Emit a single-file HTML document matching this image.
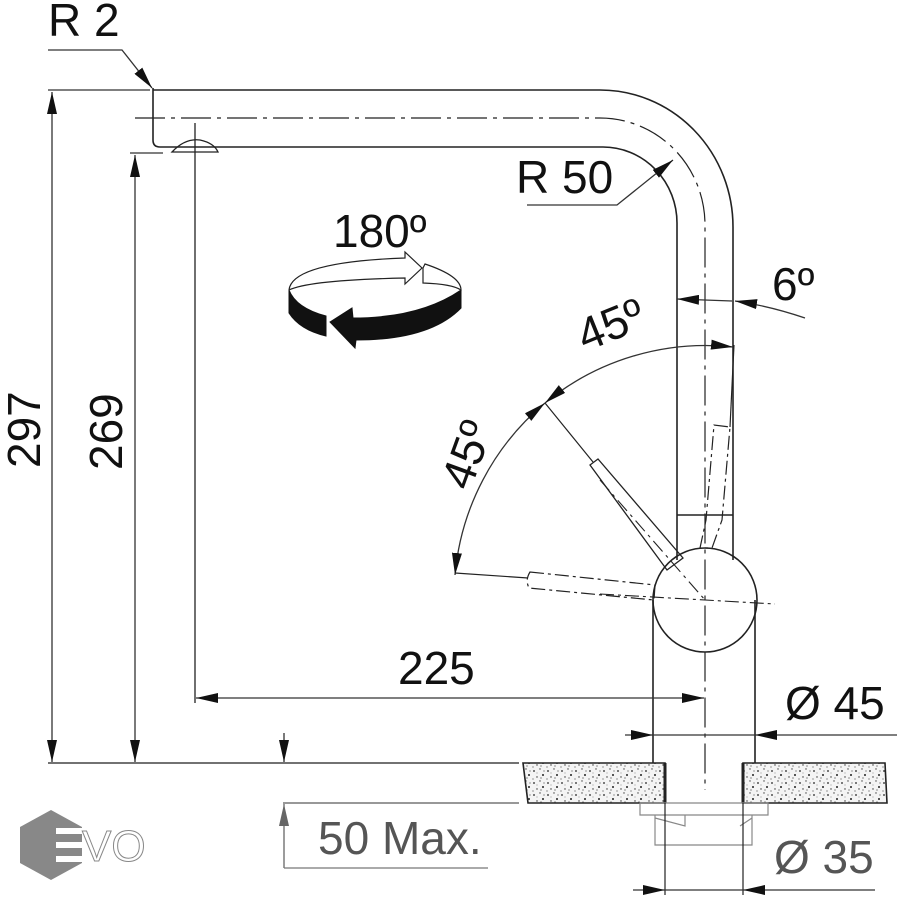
<!DOCTYPE html>
<html><head><meta charset="utf-8"><style>
html,body{margin:0;padding:0;background:#fff;}
svg{display:block;}
text{font-family:"Liberation Sans",sans-serif;}
</style></head><body>
<svg width="900" height="900" viewBox="0 0 900 900" xmlns="http://www.w3.org/2000/svg">
<defs>
<marker id="a" viewBox="0 0 22 10" refX="22" refY="5" markerWidth="22" markerHeight="10" markerUnits="userSpaceOnUse" orient="auto-start-reverse"><path d="M0,0 L22,5 L0,10 z" fill="#111"/></marker>
<marker id="ag" viewBox="0 0 22 10" refX="22" refY="5" markerWidth="22" markerHeight="10" markerUnits="userSpaceOnUse" orient="auto-start-reverse"><path d="M0,0 L22,5 L0,10 z" fill="#666"/></marker>
<pattern id="dots" width="14" height="12" patternUnits="userSpaceOnUse">
<rect width="14" height="12" fill="#f4f4f4"/>
<circle cx="2" cy="3" r="0.9" fill="#222"/><circle cx="8" cy="1" r="0.7" fill="#444"/><circle cx="11" cy="7" r="1" fill="#222"/><circle cx="5" cy="9" r="0.7" fill="#333"/><circle cx="1" cy="11" r="0.6" fill="#555"/><circle cx="9" cy="10" r="0.6" fill="#444"/><circle cx="12" cy="3" r="0.6" fill="#555"/><circle cx="5" cy="5" r="0.5" fill="#777"/>
</pattern>
</defs>
<g fill="none" stroke="#222" stroke-width="1.6">
<path d="M153,88 L153,140 Q153,147 160,147 L603,147 A74,76 0 0 1 677,223 L677,515"/>
<path d="M153,90 L600,90 A133,137 0 0 1 733,227 L733,515"/>
<path d="M135,118 L600,118 A105,107 0 0 1 705,225 L705,790" stroke-dasharray="30,6,4,6" stroke-width="1.2"/>
<path d="M172,152 Q185,138 200,140 Q214,143 218,152 Z" stroke-width="1.3"/>
<line x1="195" y1="123" x2="195" y2="703" stroke-width="1.3"/>
<line x1="677" y1="515" x2="733" y2="515"/>
<line x1="677" y1="515" x2="677" y2="560"/><line x1="733" y1="515" x2="733" y2="560"/>
<circle cx="705" cy="600" r="52"/>
<line x1="653" y1="600" x2="653" y2="763"/><line x1="755" y1="600" x2="755" y2="763"/>
<path d="M590,465 L598,459 L683,558 L667,570 Z" stroke-width="1.3"/>
<line x1="545" y1="403" x2="593" y2="462" stroke-width="1.2"/>
<line x1="600" y1="480" x2="705" y2="600" stroke-dasharray="14,5,3,5" stroke-width="1.1"/>
<path d="M530,572 L655,585 L654,600 L529,588 Q525,580 530,572 Z" stroke-dasharray="14,4,3,4" stroke-width="1.2"/>
<line x1="455" y1="573" x2="528" y2="578" stroke-width="1.2"/>
<line x1="600" y1="594" x2="775" y2="604" stroke-dasharray="14,4,3,4" stroke-width="1.1"/>
<path d="M714,425 L730,427 L722,520 L712,548 L700,548 L706,520 Z" stroke-dasharray="14,4,3,4" stroke-width="1.2"/>
<line x1="730" y1="427" x2="734" y2="345" stroke-width="1.2"/>
<path d="M523,763 L665,763 L665,803 L528,803 L523,763 Z" fill="url(#dots)"/>
<path d="M743,763 L885,763 L887,803 L743,803 Z" fill="url(#dots)"/>
<line x1="665" y1="763" x2="665" y2="803" stroke-width="3"/><line x1="743" y1="763" x2="743" y2="803" stroke-width="3"/>
<line x1="48" y1="763" x2="519" y2="763" stroke="#444"/>
<line x1="283" y1="803" x2="519" y2="803" stroke="#777"/>
<path d="M640,803 L768,803 L768,815 L640,815 Z" stroke="#888" stroke-width="1.2"/>
<path d="M655,815 L655,845 L752,845 L752,815 M655,818 L685,826 L685,815 M752,818 L740,826" stroke="#888" stroke-width="1.2"/>
<line x1="665" y1="803" x2="665" y2="895" stroke-width="1.2"/><line x1="743" y1="803" x2="743" y2="895" stroke-width="1.2"/>
</g>
<g fill="none" stroke="#333" stroke-width="1.3">
<line x1="48" y1="90" x2="150" y2="90"/>
<line x1="52" y1="92" x2="52" y2="762" marker-start="url(#a)" marker-end="url(#a)"/>
<line x1="130" y1="153" x2="163" y2="153"/>
<line x1="135" y1="155" x2="135" y2="762" marker-start="url(#a)" marker-end="url(#a)"/>
<line x1="196" y1="698" x2="704" y2="698" marker-start="url(#a)" marker-end="url(#a)"/>
<line x1="625" y1="735" x2="653" y2="735" marker-end="url(#a)"/>
<line x1="653" y1="735" x2="755" y2="735"/>
<line x1="897" y1="735" x2="755" y2="735" marker-end="url(#a)"/>
<line x1="633" y1="890" x2="665" y2="890" marker-end="url(#a)"/>
<line x1="665" y1="890" x2="743" y2="890"/>
<line x1="875" y1="890" x2="743" y2="890" marker-end="url(#a)"/>
<line x1="284" y1="733" x2="284" y2="762" marker-end="url(#a)"/>
<path d="M284,868 L284,804" stroke="#666" marker-end="url(#ag)"/>
<path d="M284,868 L488,868" stroke="#777"/>
<path d="M48,50 L122,50 L152,88" marker-end="url(#a)"/>
<path d="M527,205 L617,205 L673,160" marker-end="url(#a)"/>
<line x1="677" y1="299" x2="732" y2="301" marker-start="url(#a)"/>
<path d="M805,318 Q770,306 735,301" marker-end="url(#a)"/>
<path d="M733,347 A253,253 0 0 0 545,403" marker-start="url(#a)" marker-end="url(#a)"/>
<path d="M545,403 A253,253 0 0 0 455,575" marker-start="url(#a)" marker-end="url(#a)"/>
</g>
<path d="M289,290 L289,313 Q300,330 326,336 L326,316 Q296,308 289,290 Z" fill="#111" stroke="#111"/>
<path d="M330,322 L352,308 L353,318 Q420,318 461,290 L461,308 Q430,340 356,340 L355,348 Z" fill="#111" stroke="#111"/>
<path d="M289,290 Q292,262 405,258 L405,252 L422,268 L405,284 L405,278 Q310,280 289,290" fill="#fff" stroke="#222" stroke-width="1.2"/>
<path d="M423,268 L425,264 Q461,276 461,290 Q452,284 423,283 Z" fill="#fff" stroke="#222" stroke-width="1.2"/>
<g fill="#111" font-size="46">
<text x="48" y="36">R 2</text>
<text x="333" y="247">180º</text>
<text x="516" y="193">R 50</text>
<text x="772" y="300">6º</text>
<text x="398" y="684">225</text>
<text x="785" y="719">Ø 45</text>
<text transform="translate(585,352) rotate(-22)">45º</text>
<text transform="translate(470,492) rotate(-70)">45º</text>
<text transform="translate(40,468) rotate(-90)">297</text>
<text transform="translate(122,470) rotate(-90)">269</text>
</g>
<text x="774" y="873" font-size="46" fill="#555">Ø 35</text>
<text x="318" y="854" font-size="46" fill="#555">50 Max.</text>
<path d="M51,810 L82,827 L82,863 L51,880 L20,863 L20,827 Z" fill="#888"/>
<g fill="#fff"><rect x="56" y="828" width="27" height="6"/><rect x="56" y="842" width="27" height="6"/><rect x="56" y="856" width="27" height="6"/></g>
<text x="82" y="861" font-size="44" fill="#fff" stroke="#888" stroke-width="1">VO</text>
</svg>
</body></html>
